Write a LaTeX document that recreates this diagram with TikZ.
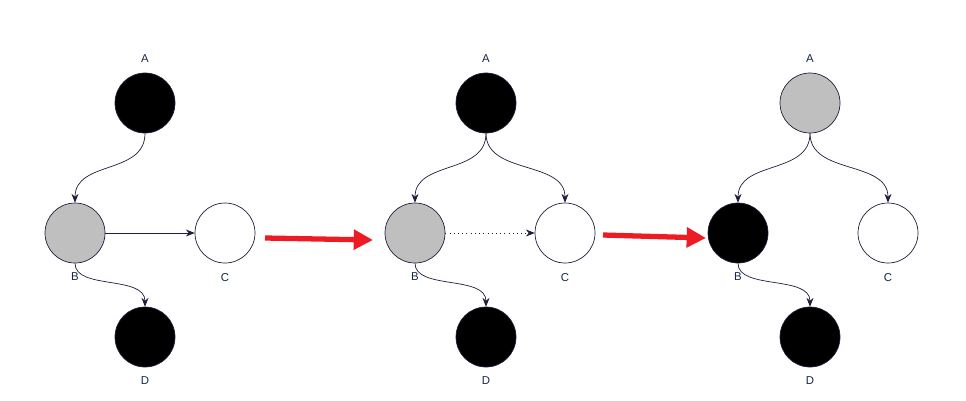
\documentclass[tikz,border=0pt]{standalone}
\usepackage{fontspec}
\setmainfont{Liberation Sans}
\usetikzlibrary{arrows.meta, positioning}
\definecolor{edgenavy}{RGB}{30, 30, 60}
\definecolor{labelblue}{RGB}{20, 40, 70}
\definecolor{flowred}{RGB}{237, 28, 36}
\begin{document}
\begin{tikzpicture}[x=0.02cm, y=-0.02cm,
    vertex/.style={circle, draw=edgenavy, minimum size=1.2cm, inner sep=0pt},
    blackv/.style={vertex, fill=black},
    grayv/.style={vertex, fill=gray!50},
    whitev/.style={vertex, fill=white},
    lbl/.style={font=\fontsize{6.5}{7}\selectfont, text=labelblue},
    link/.style={-{Stealth[length=5pt, width=4pt]}, edgenavy, thin},
    step arrow/.style={-{Triangle[length=11pt, width=11pt]}, flowred, line width=3pt}
]
    \useasboundingbox (0,0) rectangle (966,400);

    % Left: before
    \node[blackv] (a1) at (145,103) {};
    \node[grayv]  (b1) at (75,233) {};
    \node[whitev] (c1) at (225,233) {};
    \node[blackv] (d1) at (145,337) {};
    \node[lbl, above=2pt of a1] {A};
    \node[lbl, below=2pt of b1] {B};
    \node[lbl, below=2pt of c1] {C};
    \node[lbl, below=2pt of d1] {D};
    \draw[link] (a1.south) .. controls (145,175) and (75,160) .. (b1.north);
    \draw[link] (b1.east) -- (c1.west);
    \draw[link] (b1.south) .. controls (75,290) and (145,275) .. (d1.north);

    % Middle
    \node[blackv] (a2) at (486,103) {};
    \node[grayv]  (b2) at (415,233) {};
    \node[whitev] (c2) at (565,233) {};
    \node[blackv] (d2) at (486,337) {};
    \node[lbl, above=2pt of a2] {A};
    \node[lbl, below=2pt of b2] {B};
    \node[lbl, below=2pt of c2] {C};
    \node[lbl, below=2pt of d2] {D};
    \draw[link] (a2.south) .. controls (486,175) and (415,160) .. (b2.north);
    \draw[link] (a2.south) .. controls (486,175) and (565,160) .. (c2.north);
    \draw[link, dotted] (b2.east) -- (c2.west);
    \draw[link] (b2.south) .. controls (415,290) and (486,275) .. (d2.north);

    % Right: after
    \node[grayv]  (a3) at (810,103) {};
    \node[blackv] (b3) at (738,233) {};
    \node[whitev] (c3) at (888,233) {};
    \node[blackv] (d3) at (810,337) {};
    \node[lbl, above=2pt of a3] {A};
    \node[lbl, below=2pt of b3] {B};
    \node[lbl, below=2pt of c3] {C};
    \node[lbl, below=2pt of d3] {D};
    \draw[link] (a3.south) .. controls (810,175) and (738,160) .. (b3.north);
    \draw[link] (a3.south) .. controls (810,175) and (888,160) .. (c3.north);
    \draw[link] (b3.south) .. controls (738,290) and (810,275) .. (d3.north);

    % Steps
    \coordinate (s1) at (265,238);
    \coordinate (e1) at (373,240);
    \coordinate (s2) at (603,235);
    \coordinate (e2) at (706,238);
    \draw[step arrow] (s1) -- (e1);
    \draw[step arrow] (s2) -- (e2);
\end{tikzpicture}
\end{document}
